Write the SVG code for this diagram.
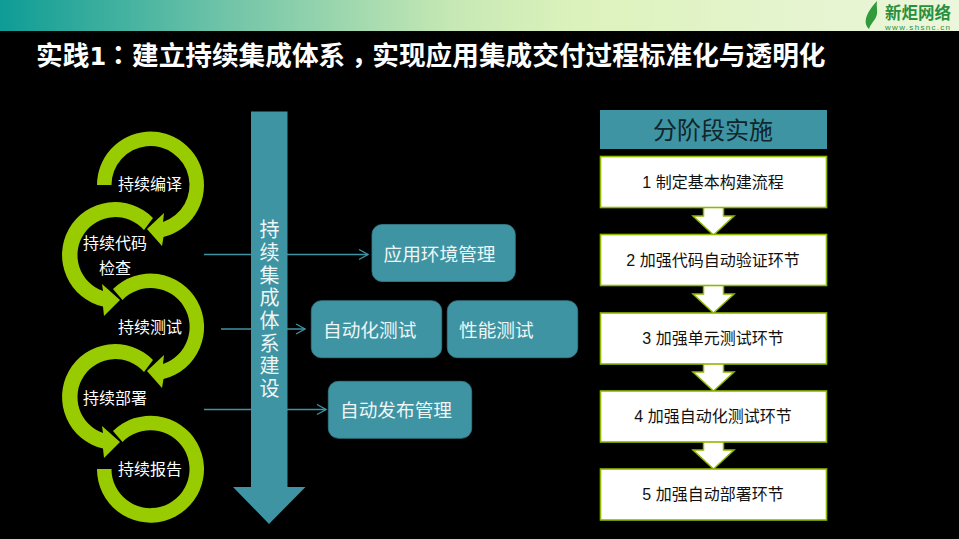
<svg xmlns="http://www.w3.org/2000/svg" width="959" height="539" viewBox="0 0 959 539">
<defs>
<linearGradient id="bar" gradientUnits="userSpaceOnUse" x1="0" y1="0" x2="959" y2="0">
<stop offset="0" stop-color="#0e9c96"/><stop offset="0.235" stop-color="#70c4a8"/><stop offset="0.47" stop-color="#c6e8b4"/><stop offset="0.6" stop-color="#dcf2bc"/><stop offset="1" stop-color="#ecf6dc"/>
</linearGradient>
<marker id="arr" markerWidth="11" markerHeight="12" refX="10" refY="6" orient="auto" markerUnits="userSpaceOnUse"><path d="M1 1L10 6L1 11" fill="none" stroke="#3e94a3" stroke-width="1.3"/></marker>
</defs>
<style>
text{font-family:"Liberation Sans","Noto Sans CJK SC",sans-serif}
.w{fill:#fff;font-size:16px;text-anchor:middle}
.t{fill:#eef6f6;font-size:18.67px}
.box{fill:#3e94a3;stroke:#337f8c;stroke-width:0.8}
.step{fill:#fff;stroke:#8fb800;stroke-width:1.6}
.d{fill:#111;font-size:16px;text-anchor:middle}
.ring{fill:#99cc00}
.down{fill:#fff;stroke:#8fb800;stroke-width:1.5}
.c{fill:none;stroke:#3e94a3;stroke-width:1.5}
.p{font-family:"Noto Sans CJK TC",sans-serif}
</style>
<rect width="959" height="539" fill="#000"/>
<rect id="topbar" width="959" height="31" fill="url(#bar)"/>
<g id="logo">
<path d="M869 29C862 22 867 12 877 1C876 8 879 13 875 19C873 22 870 25 869 29Z" fill="#2f9b3a"/>
<text x="885" y="19" font-size="16.500" font-weight="700" fill="#2a8f3c">新炬网络</text>
<text x="885" y="30" font-size="8" fill="#2a8f3c" textLength="65">www.shsnc.cn</text>
</g>
<text id="title" y="65" font-size="26.670" font-weight="700" fill="#fff"><tspan x="36">实践</tspan><tspan x="89.500" style="font-family:'DejaVu Sans'" font-size="24">1</tspan><tspan x="105" class="p">：</tspan><tspan x="132">建立持续集成体系</tspan><tspan x="345.600" class="p" dy="7">，</tspan><tspan x="372.300" dy="-7">实现应用集成交付过程标准化与透明化</tspan></text>
<g id="connectors">
<path class="c" d="M204 254.500H368" marker-end="url(#arr)"/>
<path class="c" d="M221 329H305" marker-end="url(#arr)"/>
<path class="c" d="M204 409.500H326" marker-end="url(#arr)"/>
</g>
<g id="spine">
<path d="M251 111.500H287.500V487H305.500L269 524L233 487H251Z" fill="#3e94a3"/>
<text class="t" text-anchor="middle" style="font-size:20px"><tspan x="269.500" y="237">持</tspan><tspan x="269.500" y="260">续</tspan><tspan x="269.500" y="283">集</tspan><tspan x="269.500" y="305">成</tspan><tspan x="269.500" y="328">体</tspan><tspan x="269.500" y="351">系</tspan><tspan x="269.500" y="373">建</tspan><tspan x="269.500" y="396">设</tspan></text>
</g>
<g id="cycle-1"><path class="ring" d="M97 185A53.500 53.500 0 1 1 163.500 237L162 246L147 229L164 213L163 222A39 39 0 1 0 111.500 185Z"/><text class="w" x="150" y="190">持续编译</text></g>
<g id="cycle-2"><path class="ring" d="M153 218A53 53 0 1 0 103 306.600L104 316L120 300L102 284L103 291A38 38 0 1 1 144 230Z"/><text class="w" x="115" y="249">持续代码</text><text class="w" x="115" y="274">检查</text></g>
<g id="cycle-3"><path class="ring" d="M113 289A53.500 53.500 0 1 1 163.500 379L162 388L147 371L164 355L163 364A39 39 0 1 0 122.500 300Z"/><text class="w" x="150" y="333">持续测试</text></g>
<g id="cycle-4"><path class="ring" d="M153 360A53 53 0 1 0 103 448.600L104 458L120 442L102 426L103 433A38 38 0 1 1 144 372Z"/><text class="w" x="115" y="404">持续部署</text></g>
<g id="cycle-5"><path class="ring" d="M113 431A53.500 53.500 0 1 1 97 469H111.500A39 39 0 1 0 122.500 442Z"/><text class="w" x="150" y="475">持续报告</text></g>
<g id="env"><rect class="box" x="372" y="224.500" width="143.300" height="57" rx="10"/><text class="t" x="383.500" y="261">应用环境管理</text></g>
<g id="auto-test"><rect class="box" x="311.300" y="300.700" width="130.400" height="57" rx="10"/><text class="t" x="323" y="337">自动化测试</text></g>
<g id="perf-test"><rect class="box" x="447.300" y="300.700" width="130.400" height="57" rx="10"/><text class="t" x="459" y="337">性能测试</text></g>
<g id="release"><rect class="box" x="328.300" y="381.300" width="143.400" height="57" rx="10"/><text class="t" x="340" y="417">自动发布管理</text></g>
<g id="phase-head"><rect x="600" y="110" width="227" height="39" fill="#3e94a3"/><text x="713" y="139" text-anchor="middle" font-size="24" fill="#10262b">分阶段实施</text></g>
<g id="arrows">
<path class="down" d="M703.500 207H723.500V216H734L713.500 235L693 216H703.500Z"/>
<path class="down" d="M703.500 285H723.500V294H734L713.500 313L693 294H703.500Z"/>
<path class="down" d="M703.500 363H723.500V372H734L713.500 391L693 372H703.500Z"/>
<path class="down" d="M703.500 441H723.500V450H734L713.500 469L693 450H703.500Z"/>
</g>
<g id="step-1"><rect class="step" x="600.500" y="156.500" width="226" height="51"/><text class="d" x="713" y="188">1 制定基本构建流程</text></g>
<g id="step-2"><rect class="step" x="600.500" y="234.500" width="226" height="51"/><text class="d" x="713" y="266">2 加强代码自动验证环节</text></g>
<g id="step-3"><rect class="step" x="600.500" y="313" width="226" height="51"/><text class="d" x="713" y="344">3 加强单元测试环节</text></g>
<g id="step-4"><rect class="step" x="600.500" y="391" width="226" height="51"/><text class="d" x="713" y="422">4 加强自动化测试环节</text></g>
<g id="step-5"><rect class="step" x="600.500" y="469" width="226" height="51"/><text class="d" x="713" y="500">5 加强自动部署环节</text></g>
</svg>
